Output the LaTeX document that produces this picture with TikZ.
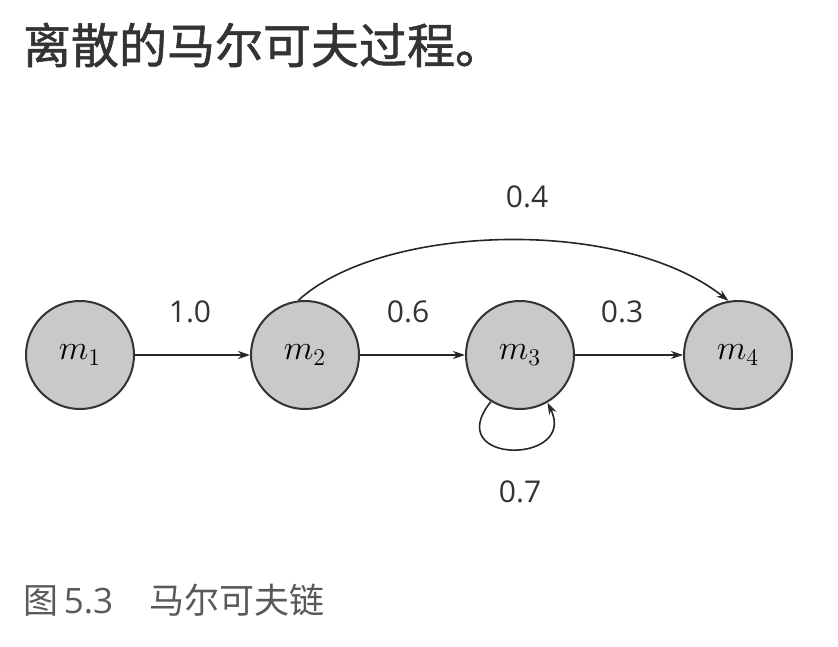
\documentclass[tikz,border=0pt]{standalone}
\usepackage{fontspec}
\newfontfamily\cjk{Noto Sans CJK SC}
\newfontfamily\cjkheavy[FakeBold=1.2]{Noto Sans CJK SC}
\newfontfamily\numfont{Open Sans}
\usetikzlibrary{arrows.meta}
\begin{document}
\begin{tikzpicture}[x=0.5pt,y=-0.5pt,
    state/.style={circle,draw=black!80,line width=1pt,fill=gray!42,
        minimum size=54pt,inner sep=0pt,font=\fontsize{18}{18}\selectfont},
    prob/.style={font=\numfont\fontsize{15}{15}\selectfont,text=black!80},
    link/.style={->,line width=0.8pt,draw=black!85},
    >={Stealth[length=6pt,width=4pt]}]

    \useasboundingbox (0,0) rectangle (838,646);

    \node[anchor=west,font=\cjkheavy\fontsize{24}{24}\selectfont,text=black!80] (title) at (16,45) {离散的马尔可夫过程。};

    % the chain
    \node[state] (m1) at (80,355) {$m_1$};
    \node[state] (m2) at (305,355) {$m_2$};
    \node[state] (m3) at (520,355) {$m_3$};
    \node[state] (m4) at (738,355) {$m_4$};

    \draw[link] (m1) -- (m2);
    \draw[link] (m2) -- (m3);
    \draw[link] (m3) -- (m4);
    \draw[link] (m2.97) .. controls (380,225) and (620,215) .. (m4.100);
    \draw[link] (m3.238) .. controls (440,465) and (578,465) .. (m3.300);

    \node[prob] (p12) at (190,312) {1.0};
    \node[prob] (p23) at (408,312) {0.6};
    \node[prob] (p34) at (622,312) {0.3};
    \node[prob] (p24) at (527,197) {0.4};
    \node[prob] (p33) at (520,492) {0.7};

    \node[anchor=west,text=black!65,font=\fontsize{17.5}{17.5}\selectfont] (caption) at (16,600)
        {{\cjk 图}\,{\numfont 5.3}\hspace{18pt}{\cjk 马尔可夫链}};

\end{tikzpicture}
\end{document}
